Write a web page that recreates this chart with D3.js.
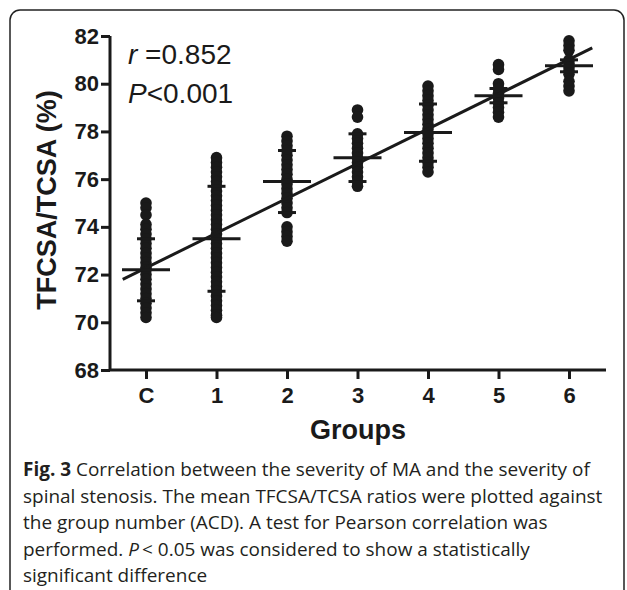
<!DOCTYPE html>
<html>
<head>
<meta charset="utf-8">
<script src="https://cdn.jsdelivr.net/npm/d3@7"></script>
<style>
  html, body { margin: 0; padding: 0; background: #fff; }
  svg { display: block; }
  .tick text { font-family: "Liberation Sans", Arial, sans-serif; font-weight: bold; font-size: 22px; fill: #1a1a1a; }
</style>
</head>
<body>
<svg id="chart" width="627" height="590"></svg>
<script>
(function() {

  'use strict';

  var groups = ['C', '1', '2', '3', '4', '5', '6'];

  // individual TFCSA/TCSA values per group
  var valuesC = [75.0, 74.8, 74.5, 74.1, 73.9, 73.7, 73.5, 73.3, 73.1, 72.9, 72.7, 72.5, 72.3, 72.2,
                 72.0, 71.8, 71.6, 71.4, 71.2, 71.0, 70.8, 70.6, 70.4, 70.2];
  var values1 = [76.9, 76.7, 76.5, 76.3, 76.1, 75.9, 75.7, 75.5, 75.3, 75.1, 74.9, 74.7, 74.5, 74.3,
                 74.1, 73.9, 73.7, 73.5, 73.3, 73.1, 72.9, 72.7, 72.5, 72.3, 72.1, 71.9, 71.7, 71.5,
                 71.3, 71.1, 70.9, 70.7, 70.5, 70.3, 70.2];
  var values2 = [77.8, 77.6, 77.4, 77.2, 77.0, 76.8, 76.6, 76.4, 76.2, 76.0, 75.8, 75.6, 75.4, 75.2,
                 75.0, 74.8, 74.6, 74.0, 73.8, 73.6, 73.4];
  var values3 = [78.9, 78.6, 77.9, 77.7, 77.5, 77.3, 77.1, 76.9, 76.7, 76.5, 76.3, 76.1, 75.9, 75.7];
  var values4 = [79.9, 79.7, 79.5, 79.3, 79.1, 78.9, 78.7, 78.5, 78.3, 78.1, 77.9, 77.7, 77.5, 77.3,
                 77.1, 76.9, 76.7, 76.5, 76.3];
  var values5 = [80.8, 80.6, 80.0, 79.8, 79.6, 79.4, 79.2, 79.0, 78.8, 78.6];
  var values6 = [81.8, 81.6, 81.4, 81.0, 80.85, 80.7, 80.55, 80.4, 80.1, 79.9, 79.7];

  var groupValues = [valuesC, values1, values2, values3, values4, values5, values6];

  var means = [72.2, 73.5, 75.9, 76.9, 77.95, 79.5, 80.75];
  var sds   = [1.3, 2.2, 1.3, 1.0, 1.2, 0.3, 0.25];

  // regression line end points (group index, value)
  var fitX = [-0.33, 6.33];
  var fitY = [71.8, 81.5];

  var yTicks = [68, 70, 72, 74, 76, 78, 80, 82];

  var captionLines = [
    [{t: 'Fig. 3', b: true}, {t: ' Correlation between the severity of MA and the severity of'}],
    [{t: 'spinal stenosis. The mean TFCSA/TCSA ratios were plotted against'}],
    [{t: 'the group number (ACD). A test for Pearson correlation was'}],
    [{t: 'performed. '}, {t: 'P', i: true}, {t: '\u2009< 0.05 was considered to show a statistically'}],
    [{t: 'significant difference'}]
  ];

  var ink = '#1a1a1a';
  var svg = d3.select('#chart');

  // frame round figure + caption
  svg.append('rect')
    .attr('x', 10).attr('y', 10)
    .attr('width', 614).attr('height', 640)
    .attr('rx', 10).attr('ry', 10)
    .attr('fill', 'none').attr('stroke', '#222').attr('stroke-width', 1.5);

  var left = 110, bottom = 370, top = 36, right = 606;

  var y = d3.scaleLinear().domain([68, 82]).range([bottom, top]);
  var x = d3.scalePoint().domain(groups).range([146, 569]);
  var xi = d3.scaleLinear().domain([0, 6]).range([146, 569]);

  // y axis
  var yAxis = svg.append('g')
    .attr('transform', 'translate(' + left + ',0)')
    .call(d3.axisLeft(y).tickValues(yTicks).tickFormat(d3.format('d')).tickSize(9).tickPadding(2));
  yAxis.select('.domain').attr('d', 'M0,' + top + 'V' + bottom);

  // x axis
  var xAxis = svg.append('g')
    .attr('transform', 'translate(0,' + bottom + ')')
    .call(d3.axisBottom(x).tickSize(9).tickPadding(8));
  xAxis.select('.domain').attr('d', 'M' + left + ',0H' + right);

  svg.selectAll('.domain, .tick line')
    .attr('stroke', ink).attr('stroke-width', 3);

  // dots
  groupValues.forEach(function(vals, gi) {
    svg.append('g').selectAll('circle').data(vals).enter().append('circle')
      .attr('cx', x(groups[gi]))
      .attr('cy', function(d) { return y(d); })
      .attr('r', 5.8)
      .attr('fill', ink);
  });

  // regression line
  svg.append('line')
    .attr('x1', xi(fitX[0])).attr('y1', y(fitY[0]))
    .attr('x2', xi(fitX[1])).attr('y2', y(fitY[1]))
    .attr('stroke', ink).attr('stroke-width', 3);

  // mean and SD bars
  var bars = svg.append('g').attr('stroke', ink).attr('stroke-width', 3);
  groups.forEach(function(g, i) {
    var cx = x(g);
    bars.append('line')
      .attr('x1', cx - 24).attr('x2', cx + 24)
      .attr('y1', y(means[i])).attr('y2', y(means[i]));
    [means[i] - sds[i], means[i] + sds[i]].forEach(function(v) {
      bars.append('line')
        .attr('x1', cx - 9).attr('x2', cx + 9)
        .attr('y1', y(v)).attr('y2', y(v));
    });
  });

  // annotation
  var font = '"Liberation Sans", Arial, sans-serif';
  var r = svg.append('text').attr('x', 128).attr('y', 64)
    .attr('font-family', font).attr('font-size', 28).attr('fill', ink);
  r.append('tspan').attr('font-style', 'italic').text('r');
  r.append('tspan').text(' =0.852');
  var p = svg.append('text').attr('x', 128).attr('y', 103)
    .attr('font-family', font).attr('font-size', 28).attr('fill', ink);
  p.append('tspan').attr('font-style', 'italic').text('P');
  p.append('tspan').text('<0.001');

  // axis titles
  svg.append('text')
    .attr('transform', 'translate(56,200) rotate(-90)')
    .attr('text-anchor', 'middle')
    .attr('font-family', font).attr('font-weight', 'bold').attr('font-size', 27)
    .attr('fill', ink).text('TFCSA/TCSA (%)');

  svg.append('text')
    .attr('x', (left + right) / 2).attr('y', 439)
    .attr('text-anchor', 'middle')
    .attr('font-family', font).attr('font-weight', 'bold').attr('font-size', 27)
    .attr('fill', ink).text('Groups');

  // caption, sized so the first line spans the frame
  var cap = svg.append('g')
    .attr('font-family', '"Open Sans", "Noto Sans", sans-serif')
    .attr('font-size', 19).attr('fill', '#231f20');
  var capTexts = [];
  captionLines.forEach(function(parts, li) {
    var t = cap.append('text').attr('x', 23).attr('y', 476 + li * 26.6);
    parts.forEach(function(s) {
      t.append('tspan')
        .attr('font-weight', s.b ? 'bold' : null)
        .attr('font-style', s.i ? 'italic' : null)
        .text(s.t);
    });
    capTexts.push(t);
  });
  var w0 = capTexts[0].node().getComputedTextLength();
  if (w0 > 0) cap.attr('font-size', 19 * 567 / w0);

})();
</script>
</body>
</html>
